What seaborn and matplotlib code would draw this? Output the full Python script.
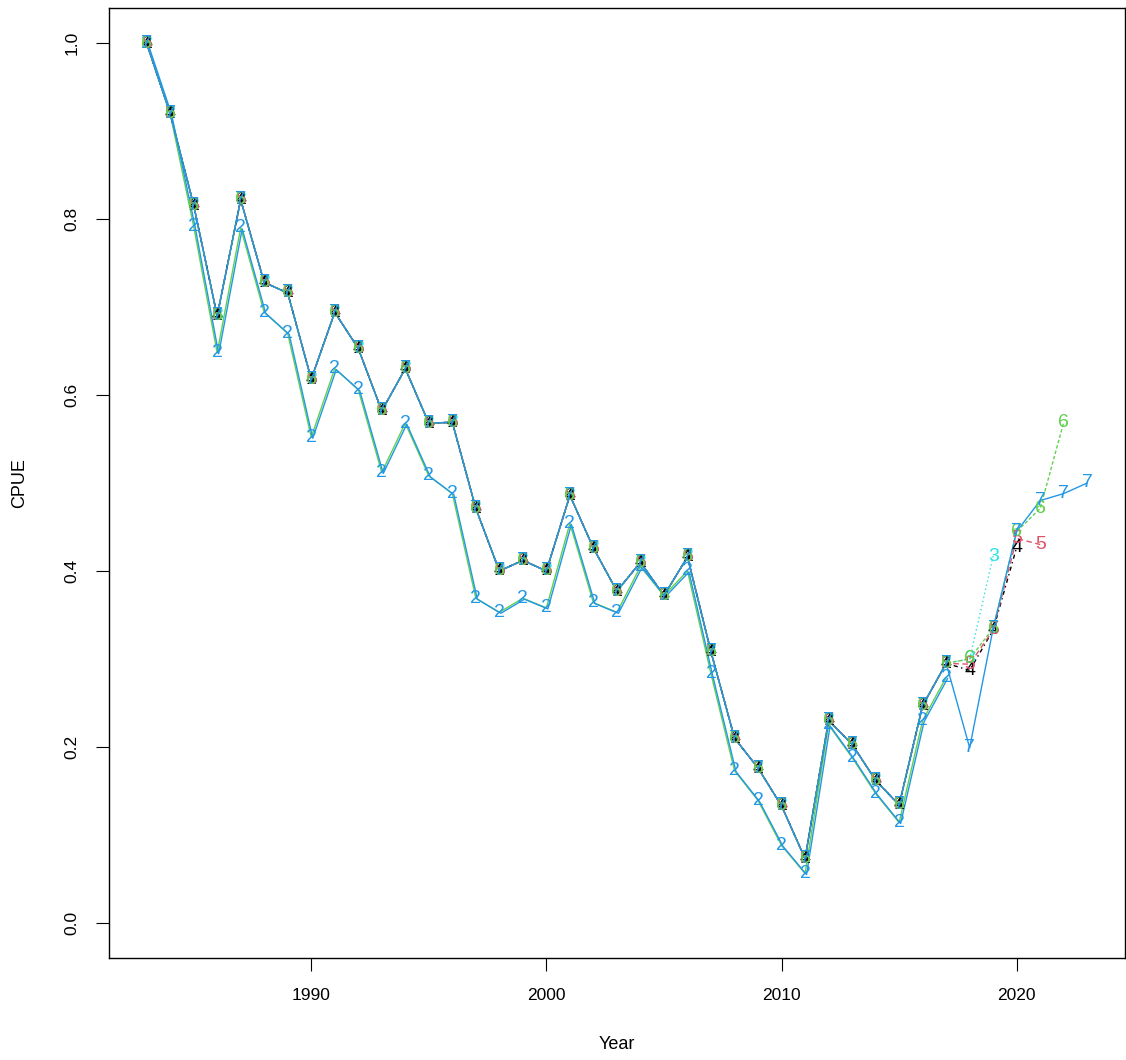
import numpy as np
import pandas as pd
import matplotlib.pyplot as plt
import matplotlib.transforms as mtransforms
import seaborn as sns


#####
##### Data: CPUE index runs
#####

years_main = list(range(1983, 2018))

# shared trajectory of runs 1, 3-7 up to 2017
cpue_main = [1.000, 0.920, 0.816, 0.690, 0.822, 0.728, 0.716, 0.618, 0.694, 0.653,
             0.582, 0.630, 0.568, 0.569, 0.471, 0.400, 0.412, 0.400, 0.486, 0.426,
             0.377, 0.410, 0.372, 0.416, 0.308, 0.210, 0.176, 0.133, 0.073, 0.230,
             0.203, 0.162, 0.134, 0.247, 0.295]

# run 2 sits lower
cpue_2 = [1.000, 0.920, 0.792, 0.648, 0.790, 0.694, 0.670, 0.552, 0.630, 0.606,
          0.512, 0.568, 0.508, 0.488, 0.369, 0.353, 0.369, 0.358, 0.454, 0.364,
          0.353, 0.405, 0.372, 0.400, 0.283, 0.173, 0.139, 0.088, 0.056, 0.225,
          0.188, 0.147, 0.114, 0.230, 0.279]

# extra years for the later runs (from 2018 on)
tail_3 = [0.300, 0.417]
tail_4 = [0.287, 0.333, 0.427]
tail_5 = [0.294, 0.333, 0.437, 0.430]
tail_6 = [0.300, 0.335, 0.445, 0.471, 0.569]
tail_7 = [0.199, 0.335, 0.445, 0.480, 0.488, 0.500]

run_colors = {'1': '#000000', '2': '#61D04F', '3': '#28E2E5', '4': '#000000',
              '5': '#DF536B', '6': '#61D04F', '7': '#2297E6'}
text_colors = dict(run_colors)
text_colors['2'] = '#2297E6'
run_dashes = {'1': '', '2': '', '3': (1, 2), '4': (1, 2.5, 3, 2.5),
              '5': (4, 2.5), '6': (2.5, 1.5), '7': ''}

runs = {
    '1': cpue_main,
    '2': cpue_2,
    '3': cpue_main + tail_3,
    '4': cpue_main + tail_4,
    '5': cpue_main + tail_5,
    '6': cpue_main + tail_6,
    '7': cpue_main + tail_7,
}

rows = []
for name, vals in runs.items():
    for i, v in enumerate(vals):
        rows.append({'run': name, 'Year': 1983 + i, 'CPUE': v})
df = pd.DataFrame(rows)


#####
##### Plot
#####

sns.set_theme(style='white')
plt.rcParams['font.family'] = ['Liberation Sans', 'DejaVu Sans']

fig = plt.figure(figsize=(11.26, 10.6), dpi=100)
ax = fig.add_axes([0.0968, 0.0962, 0.9022, 0.8963])

sns.lineplot(data=df, x='Year', y='CPUE', hue='run', style='run',
             palette=run_colors, dashes=run_dashes, linewidth=1.0,
             legend=False, ax=ax, sort=False, estimator=None)

# second (blue) trace of run 2, drawn just beside the green one
shift = mtransforms.ScaledTranslation(1.5 / 100, -1.0 / 100, fig.dpi_scale_trans)
sub = df[df['run'] == '2']
ax.plot(sub['Year'], sub['CPUE'], color='#2297E6', lw=1.0,
        transform=ax.transData + shift)

# numbered point symbols (type = "b" look)
for name, vals in runs.items():
    for i, v in enumerate(vals):
        ax.text(1983 + i, v, name, color=text_colors[name], fontsize=14,
                ha='center', va='center')

ax.set_xlim(1981.4, 2024.6)
ax.set_ylim(-0.04, 1.04)
ax.set_xticks([1990, 2000, 2010, 2020])
ax.set_yticks([0.0, 0.2, 0.4, 0.6, 0.8, 1.0])
ax.set_yticklabels(['0.0', '0.2', '0.4', '0.6', '0.8', '1.0'], rotation=90, va='center')
ax.tick_params(axis='both', direction='out', length=9.5, width=0.8, pad=12,
               labelsize=12.5, colors='black', bottom=True, left=True)
ax.set_xlabel('Year', fontsize=13, labelpad=24, color='black')
ax.set_ylabel('CPUE', fontsize=13, labelpad=26, color='black')
for s in ax.spines.values():
    s.set_color('black')
    s.set_linewidth(1.0)

fig.savefig('out.png', dpi=100)
